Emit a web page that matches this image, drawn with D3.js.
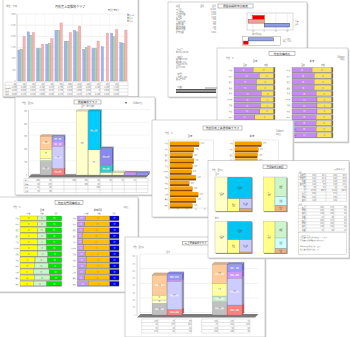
<!DOCTYPE html>
<html><head><meta charset="utf-8">
<script src="https://cdn.jsdelivr.net/npm/d3@7"></script>
<style>html,body{margin:0;padding:0;background:#fff;overflow:hidden}</style>
</head><body><script>
// ================= DATA =================
// Sheet A : monthly grouped bars
const A_months=['4月','5月','6月','7月','8月','9月','10月','11月','12月','1月','2月','3月'];
const A_prev2=[139,220,146,165,227,178,227,142,146,154,214,172];
const A_prev=[142,205,146,168,227,178,220,149,146,0,198,169];
const A_curr=[200,217,165,190,260,217,246,157,179,214,231,228];
const A_series=['前々年','前年','当年'];
const A_yTicks=[0,50,100,150,200,250,300];
// Sheet B : summary list + deviation bars
const B_items=['売上高','売上原価','売上総利益','人件費','販売費','一般管理費','営業利益','営業外収益','営業外費用','経常利益'];
const B_amounts=[12450,8320,4130,1520,980,640,990,120,85,1025];
const B_bar1Names=['目標差','前年差','実績'];
const B_bar1Vals=[-10,-14,22];
const B_bar1Ticks=[-10,0,10,20];
const B_bar2Names=['累計','当月'];
const B_bar2Vals=[19,-3.5];
// Sheet C : 100% stacked rows (purple / yellow)
const C_rows=['札幌','仙台','東京','横浜','千葉','名古屋','京都','大阪','神戸','広島','高松','福岡'];
const C_leftA=[47,62,55,55,67,65,65,63,51,58,60,56];
const C_leftB=[50,35,42,42,30,32,32,34,46,39,37,41];
const C_rightA=[49,54,54,54,59,61,61,61,59,59,59,61];
const C_rightB=[48,43,43,43,38,36,36,36,38,38,38,36];
const C_tail=[3,3,3,3,3,3,3,3,3,3,3,3];
// Sheet D : 3D stacked columns
const D_values=[[],[52,5,8,35,52],[26,85,20,20],[],[250],[98,152],[10,29,65],[10],[9],[8]];
const D_labels=['','当年','前年','','売上','粗利','経費','営業外','特別','純利益'];
const D_yTicks=[0,50,100,150,200,250];
// Sheet E : orange horizontal bars
const E_left=[65,53,50,53,50,48,58,43,50,63,58,50];
const E_right=[59,52,50,50,54,52,56,47,51,60,55,49];
const E_ticks=[0,20,40,60,80,100];
// Sheet F : area maps
const F_names1=['固定費','変動費','利益','販管費','他'];
const F_names2=['売上','原価','粗利','利益'];
const F_t1=[435,521,146,124,32];
const F_t2=[401,226,110,66];
const F_t3=[403,442,154,153,12];
const F_t4=[371,195,125,50];
// Sheet G : 100% stacked rows (3 parts)
const G_l1=[42,42,42,42,42,42,42,36,34,32,34,32];
const G_l2=[22,22,20,22,21,22,25,30,34,38,38,32];
const G_l3=[36,36,38,36,37,36,33,34,32,30,28,36];
const G_r1=[20,18,15,12,13,15,20,22,22,20,18,26];
const G_r2=[58,60,63,66,65,63,58,56,56,58,60,52];
const G_r3=[22,22,22,22,22,22,22,22,22,22,22,22];
// Sheet H : 3D stacked columns
const H_values=[[],[160,45,68,274],[78,379,23,82],[],[],[182,78,174,260],[137,365,92,100],[]];
const H_labels=['','計画','実績','','','計画','実績',''];
const H_yTicks=[0,100,200,300,400,500,600,700,800];

// ================= HELPERS =================
const W=350,H=337;
const FONT='"Noto Sans CJK JP","Noto Sans",sans-serif';
const svg=d3.select('body').append('svg').attr('width',W).attr('height',H).style('display','block');
svg.append('rect').attr('width',W).attr('height',H).attr('fill','#fff');

function sheet(x,y,w,h){
  const g=svg.append('g');
  g.append('rect').attr('x',x+1.3).attr('y',y+1.3).attr('width',w).attr('height',h).attr('fill','#d2d2d2');
  g.append('rect').attr('x',x).attr('y',y).attr('width',w).attr('height',h).attr('fill','#fff').attr('stroke','#a8a8a8').attr('stroke-width',0.5);
  return g;
}
function txt(g,x,y,s,o={}){
  return g.append('text').attr('x',x).attr('y',y).text(s)
    .attr('font-size',o.size||2.4).attr('fill',o.fill||'#6a6a6a')
    .attr('text-anchor',o.anchor||'start').attr('font-family',FONT)
    .attr('font-weight',o.weight||'normal');
}
function line(g,x1,y1,x2,y2,c,w){
  g.append('line').attr('x1',x1).attr('y1',y1).attr('x2',x2).attr('y2',y2).attr('stroke',c||'#999').attr('stroke-width',w||0.3);
}
function titleBox(g,x0,x1,y0,y1,s){
  g.append('rect').attr('x',x0).attr('y',y0).attr('width',x1-x0).attr('height',y1-y0).attr('fill','#fff').attr('stroke','#666').attr('stroke-width',0.4);
  txt(g,(x0+x1)/2,y1-0.9,s,{size:(y1-y0)*0.7,anchor:'middle',fill:'#444'});
}
function table(g,xs,y0,y1,rows,cells,o={}){
  const ys=d3.range(rows+1).map(i=>y0+(y1-y0)*i/rows);
  ys.forEach(y=>line(g,xs[0],y,xs[xs.length-1],y,o.stroke||'#9a9a9a',0.25));
  xs.forEach(x=>line(g,x,y0,x,y1,o.stroke||'#9a9a9a',0.25));
  if(cells) cells.forEach((row,r)=>row.forEach((s,c)=>{
    if(c+1<xs.length) txt(g,xs[c+1]-0.5,ys[r]+(ys[r+1]-ys[r])*0.78,s,{size:Math.min(1.9,(ys[r+1]-ys[r])*0.8),anchor:'end',fill:'#666'});
  }));
}
function stack3d(g,x,y,values,colors,depth,labelFmt){
  values.forEach((segs,i)=>{
    if(!segs.length) return;
    const x0=x(i), w=x.bandwidth();
    const cum=d3.cumsum(segs);
    segs.forEach((v,j)=>{
      const yT=y(cum[j]), yB=y(cum[j]-v), c=colors[i][j];
      g.append('polygon').attr('points',[[x0+w,yT],[x0+w+depth,yT-depth],[x0+w+depth,yB-depth],[x0+w,yB]].join(' '))
        .attr('fill',d3.color(c).darker(0.9)).attr('stroke','#666').attr('stroke-width',0.15);
      g.append('rect').attr('x',x0).attr('y',yT).attr('width',w).attr('height',yB-yT)
        .attr('fill',c).attr('stroke','#777').attr('stroke-width',0.2);
      if(yB-yT>3.2) {
        g.append('rect').attr('x',x0+w*0.2).attr('y',(yT+yB)/2-0.9).attr('width',w*0.6).attr('height',1.8).attr('fill','#fff').attr('opacity',0.55);
        txt(g,x0+w/2,(yT+yB)/2+0.6,labelFmt(v),{size:1.6,anchor:'middle',fill:'#555'});
      }
    });
    const top=y(cum[cum.length-1]);
    g.append('polygon').attr('points',[[x0,top],[x0+depth,top-depth],[x0+w+depth,top-depth],[x0+w,top]].join(' '))
      .attr('fill',d3.color(colors[i][segs.length-1]).darker(0.4)).attr('stroke','#666').attr('stroke-width',0.15);
  });
}
function hstack(g,x,y,rows,parts,colors,textCol){
  rows.forEach((r,i)=>{
    let acc=0;
    parts.forEach((arr,k)=>{
      const v=arr[i], x0=x(acc), x1=x(acc+v);
      g.append('rect').attr('x',x0).attr('y',y(r)).attr('width',x1-x0).attr('height',y.bandwidth())
        .attr('fill',colors[k]).attr('stroke','#666').attr('stroke-width',0.25);
      if(x1-x0>5 && textCol[k]) txt(g,(x0+x1)/2,y(r)+y.bandwidth()*0.72,String(v),{size:1.7,anchor:'middle',fill:textCol[k]});
      acc+=v;
    });
    line(g,x(0),y(r)+y.bandwidth()+0.2,x(acc),y(r)+y.bandwidth()+0.2,'#555',0.45);
  });
}

// ================= SHEET A =================
{
  const g=sheet(3,-4,135,101);
  txt(g,6,7,'単位：千円',{size:2.2});
  txt(g,70,7.5,'月別売上高推移グラフ',{size:3,anchor:'middle',fill:'#444'});
  txt(g,108,11,'■当年 ■前年',{size:1.8,fill:'#888'});
  const x=d3.scaleBand().domain(A_months).range([17,128]).paddingInner(0.2).paddingOuter(0.1);
  const y=d3.scaleLinear().domain([0,300]).range([81,14]);
  A_yTicks.forEach(t=>{line(g,17,y(t),128,y(t),'#d6d6d6',0.35);txt(g,15.5,y(t)+0.7,d3.format(',')(t*10),{size:1.8,anchor:'end',fill:'#888'});});
  const step=x.step(), off=(step-x.bandwidth())/2;
  const bounds=A_months.map(m=>x(m)-off).concat([x(A_months[11])+x.bandwidth()+off]);
  bounds.forEach(b=>line(g,b,14,b,81,'#ececec',0.3));
  line(g,17,14,17,81,'#888',0.35);
  const sub=d3.scaleBand().domain([0,1,2]).range([0,x.bandwidth()]).paddingInner(0.06);
  const cols=['#a3b3ef','#a9d9b2','#f7b3b3'], strokes=['#7f8fd0','#6f9a78','#d89090'];
  [A_prev2,A_prev,A_curr].forEach((s,i)=>{
    g.selectAll(null).data(A_months).enter().append('rect')
      .attr('x',d=>x(d)+sub(i)).attr('y',(d,j)=>y(s[j])).attr('width',sub.bandwidth())
      .attr('height',(d,j)=>y(0)-y(s[j])).attr('fill',cols[i]).attr('stroke',strokes[i]).attr('stroke-width',0.3);
  });
  A_series.forEach((n,i)=>{
    g.append('rect').attr('x',127.5).attr('y',14+i*3).attr('width',1.6).attr('height',1.6).attr('fill',cols[i]).attr('stroke','#555').attr('stroke-width',0.2);
    txt(g,129.6,15.5+i*3,n,{size:1.6,fill:'#777'});
  });
  const xs=[5].concat(bounds);
  const cells=[A_months].concat([A_prev2,A_prev,A_curr].map(s=>s.map(v=>d3.format(',')(v*10))));
  table(g,xs,82,95.5,4,cells);
  A_series.forEach((n,i)=>txt(g,5.5,88.6+i*3.4,n,{size:1.7,fill:'#666'}));
  line(g,3,97,138,97,'#888',0.4);
}

// ================= SHEET B =================
{
  const g=sheet(168,2,139,95);
  txt(g,176,7,'科目',{size:2});txt(g,200,7,'当月',{size:2});txt(g,216,7,'累計',{size:2,anchor:'end'});
  B_items.forEach((s,i)=>{txt(g,176,10+i*2.5,s,{size:1.9});txt(g,216,10+i*2.5,d3.format(',')(B_amounts[i]),{size:1.9,anchor:'end'});});
  titleBox(g,218,253,4,8,'損益実績前年比較表');
  const x1=d3.scaleLinear().domain([-15,25]).range([247,293]);
  const y1=d3.scaleBand().domain(B_bar1Names).range([15.5,27]).paddingInner(0.02);
  g.append('rect').attr('x',247).attr('y',13).attr('width',46).attr('height',17).attr('fill','#fff').attr('stroke','#888').attr('stroke-width',0.3);
  B_bar1Ticks.forEach(t=>{line(g,x1(t),13,x1(t),30,'#c8c8c8',0.3);txt(g,x1(t),32.3,String(t),{size:1.7,anchor:'middle',fill:'#777'});});
  const c1=['#e40000','#eaa39a','#8c9ce6'], s1=['#e40000','#555','#333'];
  B_bar1Names.forEach((n,i)=>{
    const v=B_bar1Vals[i];
    g.append('rect').attr('x',Math.min(x1(0),x1(v))).attr('y',y1(n)).attr('width',Math.abs(x1(v)-x1(0))).attr('height',y1.bandwidth())
      .attr('fill',c1[i]).attr('stroke',s1[i]).attr('stroke-width',0.4);
  });
  txt(g,295,22,'実績',{size:1.7});txt(g,295,24.5,'前年',{size:1.7});
  txt(g,257,35.3,'前年同月比',{size:1.9,anchor:'middle'});
  const x2=d3.scaleLinear().domain([-5,25]).range([241.5,281.5]);
  const y2=d3.scaleBand().domain(B_bar2Names).range([37.8,44.2]).paddingInner(0.05);
  g.append('rect').attr('x',242.5).attr('y',36.5).attr('width',38).attr('height',8.7).attr('fill','#fff').attr('stroke','#777').attr('stroke-width',0.35);
  const c2=['#95a6ea','#e40000'];
  B_bar2Names.forEach((n,i)=>{
    const v=B_bar2Vals[i];
    g.append('rect').attr('x',Math.min(x2(0),x2(v))).attr('y',y2(n)).attr('width',Math.abs(x2(v)-x2(0))).attr('height',y2.bandwidth())
      .attr('fill',c2[i]).attr('stroke',i===0?'#333':'#e40000').attr('stroke-width',0.4);
  });
  txt(g,283,39.5,'累計 '+B_bar2Vals[0]+'%',{size:1.7});txt(g,283,42,'当月 '+B_bar2Vals[1]+'%',{size:1.7});
  const notes=[[50,'《売上》'],[52.5,'前年比 102.4%'],[57.5,'《粗利》'],[60,'粗利率 33.2%'],[62.5,'前年差 +1.2'],[65,'計画比 98.7%'],[67.5,'累計 4,130'],[75,'《経費》'],[77.5,'人件費 1,520'],[80,'販売費 980'],[88,'《利益》']];
  notes.forEach(([yy,s])=>txt(g,176,yy,s,{size:1.9}));
  g.append('rect').attr('x',176).attr('y',89).attr('width',40).attr('height',1.6).attr('fill','#555');
  g.append('rect').attr('x',176).attr('y',91.4).attr('width',40).attr('height',1.6).attr('fill','#444');
  g.append('rect').attr('x',205).attr('y',87).attr('width',12).attr('height',2).attr('fill','#ccc');
}

// ================= SHEET C =================
{
  const g=sheet(217,48,131,94);
  titleBox(g,269,295,51.5,55.5,'地区別構成比');
  txt(g,226,58.5,'単位：％',{size:1.9});txt(g,345,57.5,'平成XX年',{size:1.9,anchor:'end'});txt(g,345,59.8,'X月度',{size:1.9,anchor:'end'});
  txt(g,255,61.5,'当 年',{size:2,anchor:'middle',fill:'#444'});txt(g,312,61.5,'前 年',{size:2,anchor:'middle',fill:'#444'});
  txt(g,245,65.5,'固定',{size:1.8,anchor:'middle'});txt(g,266,65.5,'変動',{size:1.8,anchor:'middle'});
  txt(g,303,65.5,'固定',{size:1.8,anchor:'middle'});txt(g,323,65.5,'変動',{size:1.8,anchor:'middle'});
  const y=d3.scaleBand().domain(C_rows).range([67.5,137.5]).paddingInner(0.18);
  const xl=d3.scaleLinear().domain([0,100]).range([234,275]);
  const xr=d3.scaleLinear().domain([0,100]).range([292,333]);
  const cols=['#c58cf0','#f8e25a','#8a6a3a'];
  hstack(g,xl,y,C_rows,[C_leftA,C_leftB,C_tail],cols,['#fff','#888',null]);
  hstack(g,xr,y,C_rows,[C_rightA,C_rightB,C_tail],cols,['#fff','#888',null]);
  C_rows.forEach(r=>{
    if(y(r)<118) txt(g,232,y(r)+3.3,r,{size:1.6,anchor:'end'});
    if(y(r)<118) txt(g,290,y(r)+3.3,r,{size:1.6,anchor:'end'});
    else txt(g,296.5,y(r)+3.3,r,{size:1.4,anchor:'end'});
  });
}

// ================= SHEET D =================
{
  const g=sheet(15,97,140,98);
  titleBox(g,74,101,100,104,'損益構成グラフ');
  txt(g,87.5,107,'（当年・前年比較）',{size:1.8,anchor:'middle'});
  txt(g,22,103.5,'単位：百万円',{size:1.9});txt(g,125,103.5,'■',{size:1.9});txt(g,133,103.5,'平成XX年度',{size:1.9});
  const y=d3.scaleLinear().domain([0,250]).range([175,111]);
  const x=d3.scaleBand().domain(d3.range(D_values.length)).range([28,148]).paddingInner(0.04);
  D_yTicks.forEach(t=>{line(g,30,y(t)-1.5,150,y(t)-1.5,'#d8d8d8',0.3);txt(g,27,y(t)+0.7,d3.format(',')(t*2),{size:1.7,anchor:'end',fill:'#777'});});
  line(g,28.5,110,28.5,176,'#888',0.35);
  g.append('polygon').attr('points','28,177.5 146,177.5 149.5,174.2 31.5,174.2').attr('fill','#7a7a7a');
  const D_colors=[[],['#c0c0c0','#c4e8c4','#ffffcc','#ffff99','#ffcc99'],['#ff8080','#ccccff','#cc99ff','#9999ff'],[],['#ffffcc'],['#ffffcc','#00ccff'],['#ffffcc','#33cccc','#8888ee'],['#ffffcc'],['#cc99ff'],['#9999ff']];
  stack3d(g,x,y,D_values,D_colors,1.6,v=>String(v*2));
  const xs=[24].concat(d3.range(D_values.length).slice(1).map(i=>x(i)-0.2)).concat([148]);
  const cells=d3.range(4).map(r=>D_values.slice(1).map(s=>s.length>r?String(s[r]*2):''));
  table(g,xs,178.5,192.5,4,cells);
  ['科目','金額','比率','前年'].forEach((s,i)=>txt(g,25,181.3+i*3.5,s,{size:1.7}));
}

// ================= SHEET E =================
{
  const g=sheet(152,120,141,97);
  titleBox(g,203,242,126,130,'地区別売上高達成率グラフ');
  txt(g,165,133.5,'単位：％',{size:1.9});txt(g,190,137,'当 年',{size:2.1,anchor:'middle',fill:'#444'});
  txt(g,252,137,'前 年',{size:2.1,anchor:'middle',fill:'#444'});
  txt(g,276,132,'平成XX年',{size:1.9});txt(g,276,134.5,'X月度',{size:1.9});
  const y=d3.scaleBand().domain(C_rows).range([141.5,207.5]).paddingInner(0.22);
  [[E_left,168.7,213.7],[E_right,233.7,278.7]].forEach(([vals,a,b])=>{
    const x=d3.scaleLinear().domain([0,100]).range([a,b]);
    g.append('rect').attr('x',a).attr('y',140).attr('width',b-a).attr('height',68).attr('fill','none').attr('stroke','#bbb').attr('stroke-width',0.3);
    E_ticks.forEach(t=>txt(g,x(t),210.3,String(t),{size:1.5,anchor:'middle',fill:'#888'}));
    C_rows.forEach((r,i)=>{
      const v=vals[i];
      g.append('rect').attr('x',x(0)+1.2).attr('y',y(r)+0.9).attr('width',x(v)-x(0)).attr('height',y.bandwidth()).attr('fill','#8a4a00');
      g.append('rect').attr('x',x(0)+1.2).attr('y',y(r)).attr('width',x(v)-x(0)).attr('height',y.bandwidth()*0.82).attr('fill','#f6a000');
      txt(g,x(v)+2.8,y(r)+2.8,v.toFixed(1),{size:1.6,fill:'#666'});
      txt(g,a-1,y(r)+2.8,r,{size:1.5,anchor:'end',fill:'#666'});
    });
  });
}

// ================= SHEET G =================
{
  const g=sheet(-2,197,140,95);
  titleBox(g,55,83,200.5,204.5,'地区別費用構成比');
  txt(g,13,207.5,'単位：％',{size:1.9});txt(g,42,210.5,'当 年',{size:2,anchor:'middle',fill:'#444'});
  txt(g,98,210.5,'前年同月',{size:2,anchor:'middle',fill:'#444'});txt(g,126,207.5,'X月度',{size:1.9,anchor:'middle'});
  [['人件費',28],['経費',42],['其他',56],['人件費',86],['経費',99],['其他',114]].forEach(([s,xx])=>txt(g,xx,213.7,s,{size:1.6,anchor:'middle'}));
  const y=d3.scaleBand().domain(C_rows).range([216,286]).paddingInner(0.22);
  const xl=d3.scaleLinear().domain([0,100]).range([20,61.7]);
  const xr=d3.scaleLinear().domain([0,100]).range([77.3,119]);
  hstack(g,xl,y,C_rows,[G_l1,G_l2,G_l3],['#ffff00','#ccf5c8','#00e400'],['#777','#777','#fff']);
  hstack(g,xr,y,C_rows,[G_r1,G_r2,G_r3],['#c497f4','#ffc000','#0000dd'],['#fff','#888','#fff']);
  C_rows.forEach(r=>{txt(g,18.5,y(r)+3.2,r,{size:1.5,anchor:'end'});txt(g,75.8,y(r)+3.2,r,{size:1.5,anchor:'end'});});
}

// ================= SHEET H =================
{
  const g=sheet(125,237,140,100);
  titleBox(g,182.7,208.3,241.5,245,'売上原価構成グラフ');
  txt(g,133,247.5,'単位：百万円',{size:1.8});txt(g,168,252.5,'当 年',{size:1.9,anchor:'middle'});txt(g,226,252.5,'前 年',{size:1.9,anchor:'middle'});
  const y=d3.scaleLinear().domain([0,800]).range([315,256.6]);
  const x=d3.scaleBand().domain(d3.range(H_values.length)).range([137,257]).paddingInner(0.03);
  H_yTicks.forEach(t=>{ if(t%200===0) line(g,140,y(t)-2.5,258,y(t)-2.5,'#cfcfcf',0.3); txt(g,135,y(t)+0.6,d3.format(',')(t),{size:1.5,anchor:'end',fill:'#888'});});
  line(g,137,255,137,316,'#888',0.35);
  line(g,140,254,140,313,'#bbb',0.3);
  g.append('polygon').attr('points','137,317.5 255,317.5 258.5,314 140.5,314').attr('fill','#7a7a7a');
  const H_colors=[[],['#c0c0c0','#ffffcc','#ffff99','#ffcc99'],['#ff8080','#ccccff','#cc99ff','#9999ff'],[],[],['#c0c0c0','#c8ecc8','#ffff99','#ffcc99'],['#ff8080','#ccccff','#cc99ff','#9999ff'],[]];
  stack3d(g,x,y,H_values,H_colors,2.2,v=>String(v));
  const cellsOf=(arr)=>d3.range(4).map(r=>[String(arr[0][r]),String(arr[1][r]),String(Math.round(arr[1][r]/arr[0][r]*100))]);
  table(g,[141.7,158,175,191.7],319,333,4,cellsOf([H_values[1],H_values[2]]));
  table(g,[201.7,218,234,250],319,333,4,cellsOf([H_values[5],H_values[6]]));
}

// ================= SHEET F =================
{
  const g=sheet(208,160.5,141,97.5);
  titleBox(g,263,287,165,168.5,'費用構成比較図');
  txt(g,212,170.8,'単位：百万円',{size:1.8});txt(g,345,169.6,'平成XX年 X月度',{size:1.7,anchor:'end'});
  txt(g,215,175,'当 年',{size:1.9});txt(g,215,219.3,'前 年',{size:1.9});
  const fcolA=['#ffffc8','#00c4f2','#ffff88','#ccccff','#e4a664'];
  const fcolB=['#ffff88','#ccf5cc','#ccffff','#f0b080'];
  function build5(v){return {children:[{v:v[0],i:0},{children:[{v:v[1],i:1},{children:[{v:v[2],i:2},{children:[{v:v[3],i:3},{v:v[4],i:4}]}]}]}]};}
  function build4(v){return {children:[{v:v[0],i:0},{children:[{v:v[1],i:1},{v:v[2],i:2},{v:v[3],i:3}]}]};}
  function tmap(data,x0,y0,x1,y1,colors,names){
    const root=d3.hierarchy(data).sum(d=>d.v||0);
    d3.treemap().tile(d3.treemapSliceDice).size([x1-x0,y1-y0]).round(false)(root);
    g.append('rect').attr('x',x0+0.8).attr('y',y0+0.8).attr('width',x1-x0).attr('height',y1-y0).attr('fill','#777');
    root.leaves().forEach(l=>{
      g.append('rect').attr('x',x0+l.x0).attr('y',y0+l.y0).attr('width',l.x1-l.x0).attr('height',l.y1-l.y0)
        .attr('fill',colors[l.data.i]).attr('stroke','#888').attr('stroke-width',0.25);
      if(l.y1-l.y0>4){
        const cx=x0+(l.x0+l.x1)/2, cy=y0+(l.y0+l.y1)/2;
        txt(g,cx,cy,names[l.data.i],{size:1.6,anchor:'middle',fill:'#555'});
        txt(g,cx,cy+2,d3.format(',')(l.data.v),{size:1.6,anchor:'middle',fill:'#555'});
      }
    });
  }
  tmap(build5(F_t1),215,177,251.7,211.3,fcolA,F_names1);
  tmap(build4(F_t2),263.3,177,286.7,211.3,fcolB,F_names2);
  tmap(build5(F_t3),215,221.3,251.7,253,fcolA,F_names1);
  tmap(build4(F_t4),263.3,221.3,286.7,253,fcolB,F_names2);
  txt(g,298.5,172.6,'当年',{size:1.5});
  const tot1=d3.sum(F_t1), tot3=d3.sum(F_t3);
  const cells1=F_names1.map((n,i)=>[n,d3.format(',')(F_t1[i]),(F_t1[i]/tot1*100).toFixed(1),d3.format(',')(F_t3[i]),(F_t3[i]/tot3*100).toFixed(1)]);
  cells1.push(['計',d3.format(',')(tot1),'100.0',d3.format(',')(tot3),'100.0']);
  table(g,[298.3,306,316,326,337,346.7],173.5,201.3,9,cells1.concat(F_names2.map((n,i)=>[n,d3.format(',')(F_t2[i]),'',d3.format(',')(F_t4[i]),''])).slice(0,9));
  txt(g,298.5,204.5,'前年',{size:1.7});
  const cells2=F_names2.map((n,i)=>[n,d3.format(',')(F_t2[i]),d3.format(',')(F_t4[i]),String(F_t2[i]-F_t4[i])]);
  table(g,[298.3,306,324,334,346.7],205.5,231.3,8,cells2.concat(cells2));
  g.append('rect').attr('x',298.3).attr('y',232.5).attr('width',48.4).attr('height',22).attr('fill','#fff').attr('stroke','#999').attr('stroke-width',0.3);
  ['《コメント》','固定費は前年に比べ増加しています。','変動費率は改善傾向にあります。','','利益率は前年同月比で上昇。','販管費の削減が課題です。'].forEach((s,i)=>txt(g,300,235.5+i*2.8,s,{size:1.7}));
}
</script></body></html>
